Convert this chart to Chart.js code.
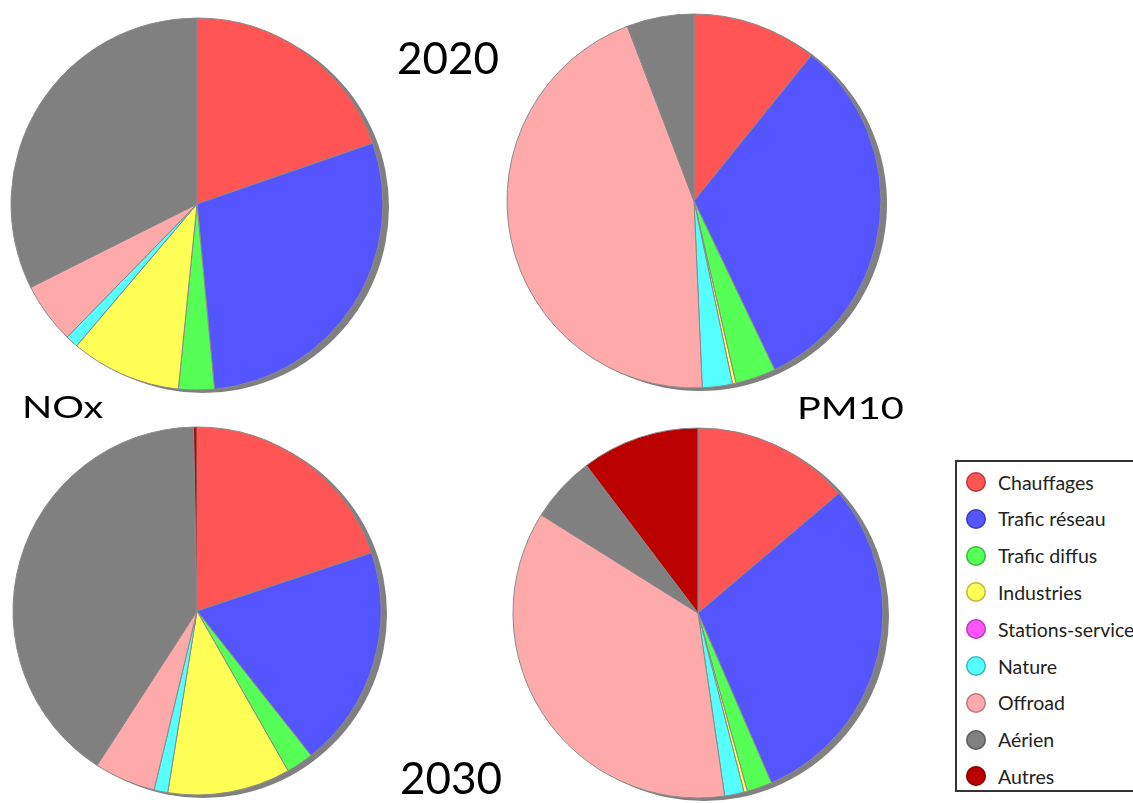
<!DOCTYPE html>
<html lang="fr">
<head>
<meta charset="utf-8">
<title>Émissions NOx et PM10 par secteur – 2020 / 2030</title>
<script src="https://cdn.jsdelivr.net/npm/chart.js@4.4.1/dist/chart.umd.min.js"></script>
<style>
  html, body { margin: 0; padding: 0; background: #fff; }
  body { width: 1133px; height: 803px; position: relative; overflow: hidden; font-family: Lato, "Open Sans", sans-serif; }
  .pie { position: absolute; width: 400px; height: 400px; }
  .lbl { position: absolute; color: #000; line-height: 1; white-space: nowrap; transform-origin: left top; }
  .year { font-size: 44px; }
  .poll { font-size: 31px; transform: scaleX(1.28); }
  #legend { position: absolute; left: 955px; top: 460px; width: 240px; height: 332px; border: 2px solid #333; box-sizing: border-box; }
  .item { position: absolute; left: 0; height: 24px; display: flex; align-items: center; font-size: 19.5px; color: #222; white-space: nowrap; }
  .dot { width: 20px; height: 20px; border-radius: 50%; margin-left: 9px; margin-right: 12px; box-shadow: inset 0 0 0 1.5px rgba(0,0,0,0.28); }
</style>
</head>
<body>

<canvas id="nox2020" class="pie" width="400" height="400" style="left:-3px; top:4px;"></canvas>
<canvas id="pm2020" class="pie" width="400" height="400" style="left:494px; top:1px;"></canvas>
<canvas id="nox2030" class="pie" width="400" height="400" style="left:-3px; top:411px;"></canvas>
<canvas id="pm2030" class="pie" width="400" height="400" style="left:498px; top:413px;"></canvas>

<div class="lbl year" style="left:397px; top:35px;">2020</div>
<div class="lbl year" style="left:400px; top:755px;">2030</div>
<div class="lbl poll" style="left:22px; top:391px;">NOx</div>
<div class="lbl poll" style="left:797px; top:392px;">PM10</div>

<div id="legend"></div>

<script>
// Emission sources (same order for every pie, clockwise from 12 o'clock)
const categories = ['Chauffages', 'Trafic réseau', 'Trafic diffus', 'Industries', 'Stations-service', 'Nature', 'Offroad', 'Aérien', 'Autres'];
const sliceColors = ['#ff5555', '#5555ff', '#55ff55', '#ffff55', '#ff55ff', '#55ffff', '#ffaaaa', '#808080', '#bb0000'];

// Share of emissions by source, in %
const nox2020 = [19.7, 28.8, 3.1, 9.6, 0, 1.1, 5.3, 32.4, 0];
const pm10_2020 = [10.8, 32.1, 3.5, 0.3, 0, 2.6, 44.9, 5.8, 0];
const nox2030 = [19.9, 19.5, 2.4, 10.8, 0, 1.2, 5.4, 40.6, 0.3];
const pm10_2030 = [13.8, 29.7, 2.2, 0.3, 0, 1.7, 36.2, 5.8, 10.3];

// Grey drop shadow behind each pie, following the arc geometry computed by Chart.js
const pieShadow = {
  id: 'pieShadow',
  beforeDatasetsDraw(chart, args, opts) {
    const arc = chart.getDatasetMeta(0).data[0];
    if (!arc) return;
    const { x, y, outerRadius } = arc.getProps(['x', 'y', 'outerRadius'], true);
    const ctx = chart.ctx;
    ctx.save();
    ctx.fillStyle = opts.color;
    ctx.beginPath();
    ctx.arc(x + opts.dx, y + opts.dy, outerRadius, 0, Math.PI * 2);
    ctx.fill();
    ctx.restore();
  }
};

function makePie(id, values, radius) {
  return new Chart(document.getElementById(id), {
    type: 'pie',
    data: {
      labels: categories,
      datasets: [{
        data: values,
        backgroundColor: sliceColors,
        borderColor: '#8a8a8a',
        borderWidth: 1
      }]
    },
    options: {
      responsive: false,
      animation: false,
      radius: radius,
      layout: { padding: 0 },
      plugins: {
        legend: { display: false },
        tooltip: { enabled: false },
        pieShadow: { color: '#808080', dx: 6, dy: 3 }
      }
    },
    plugins: [pieShadow]
  });
}

makePie('nox2020', nox2020, 186);
makePie('pm2020', pm10_2020, 187);
makePie('nox2030', nox2030, 184);
makePie('pm2030', pm10_2030, 185);

// Legend box built from the same categories and colours
const legend = document.getElementById('legend');
categories.forEach((name, i) => {
  const item = document.createElement('div');
  item.className = 'item';
  item.style.top = (8 + i * 36.8) + 'px';
  const dot = document.createElement('span');
  dot.className = 'dot';
  dot.style.background = sliceColors[i];
  const txt = document.createElement('span');
  txt.textContent = name;
  item.appendChild(dot);
  item.appendChild(txt);
  legend.appendChild(item);
});
</script>
</body>
</html>
